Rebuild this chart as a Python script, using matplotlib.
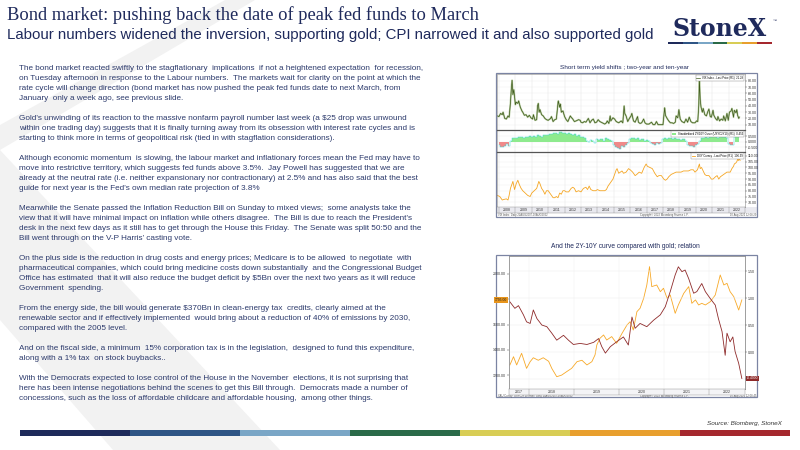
import numpy as np
import matplotlib.pyplot as plt
from matplotlib.patches import Polygon, Rectangle
from matplotlib.transforms import blended_transform_factory

W, H = 800, 450
NAVY = '#1f2a5c'
TEXT = '#2c3a6c'

title = "Bond market: pushing back the date of peak fed funds to March"
subtitle = ("Labour numbers widened the inversion, supporting gold; "
            "CPI narrowed it and also supported gold")

body = [
    "The bond market reacted swiftly to the stagflationary  implications  if not a heightened expectation  for recession,",
    "on Tuesday afternoon in response to the Labour numbers.  The markets wait for clarity on the point at which the",
    "rate cycle will change direction (bond market has now pushed the peak fed funds date to next March, from",
    "January  only a week ago, see previous slide.",
    "",
    "Gold\u2019s unwinding of its reaction to the massive nonfarm payroll number last week (a $25 drop was unwound",
    "within one trading day) suggests that it is finally turning away from its obsession with interest rate cycles and is",
    "starting to think more in terms of geopolitical risk (tied in with stagflation considerations).",
    "",
    "Although economic momentum  is slowing, the labour market and inflationary forces mean the Fed may have to",
    "move into restrictive territory, which suggests fed funds above 3.5%.  Jay Powell has suggested that we are",
    "already at the neutral rate (i.e. neither expansionary nor contractionary) at 2.5% and has also said that the best",
    "guide for next year is the Fed\u2019s own median rate projection of 3.8%",
    "",
    "Meanwhile the Senate passed the Inflation Reduction Bill on Sunday to mixed views;  some analysts take the",
    "view that it will have minimal impact on inflation while others disagree.  The Bill is due to reach the President\u2019s",
    "desk in the next few days as it still has to get through the House this Friday.  The Senate was split 50:50 and the",
    "Bill went through on the V-P Harris\u2019 casting vote.",
    "",
    "On the plus side is the reduction in drug costs and energy prices; Medicare is to be allowed  to negotiate  with",
    "pharmaceutical companies, which could bring medicine costs down substantially  and the Congressional Budget",
    "Office has estimated  that it will also reduce the budget deficit by $5Bn over the next two years as it will reduce",
    "Government  spending.",
    "",
    "From the energy side, the bill would generate $370Bn in clean-energy tax  credits, clearly aimed at the",
    "renewable sector and if effectively implemented  would bring about a reduction of 40% of emissions by 2030,",
    "compared with the 2005 level.",
    "",
    "And on the fiscal side, a minimum  15% corporation tax is in the legislation,  designed to fund this expenditure,",
    "along with a 1% tax  on stock buybacks..",
    "",
    "With the Democrats expected to lose control of the House in the November  elections, it is not surprising that",
    "here has been intense negotiations behind the scenes to get this Bill through.  Democrats made a number of",
    "concessions, such as the loss of affordable childcare and affordable housing,  among other things.",
]

chart1_title = "Short term yield shifts ; two-year and ten-year"
chart2_title = "And the 2Y-10Y curve compared with gold; relation"
source = "Source: Blomberg, StoneX"
bar_colors = ['#1e2a5a', '#2f5585', '#7aa6c6', '#2a6a48', '#d8cd55', '#e89f2e', '#a5282e']

# chart 1, top panel: VIX
vix = [(2007.9, 24), (2008.0, 23), (2008.1, 28), (2008.2, 26), (2008.25, 30), (2008.35, 20),
       (2008.45, 19), (2008.55, 24), (2008.62, 22), (2008.7, 45), (2008.76, 70), (2008.8, 81),
       (2008.85, 58), (2008.9, 66), (2008.95, 55), (2009.0, 42), (2009.05, 46), (2009.15, 44),
       (2009.2, 48), (2009.3, 38), (2009.4, 32), (2009.45, 30), (2009.55, 25), (2009.65, 26),
       (2009.75, 22), (2009.85, 25), (2009.95, 21), (2010.05, 19), (2010.1, 26), (2010.2, 17),
       (2010.3, 18), (2010.35, 40), (2010.4, 44), (2010.45, 30), (2010.5, 34), (2010.6, 26),
       (2010.7, 24), (2010.8, 20), (2010.9, 18), (2011.0, 17), (2011.15, 20), (2011.2, 23),
       (2011.3, 15), (2011.4, 18), (2011.5, 19), (2011.6, 45), (2011.62, 48), (2011.7, 38),
       (2011.75, 43), (2011.8, 30), (2011.9, 32), (2012.0, 23), (2012.1, 18), (2012.2, 15),
       (2012.35, 24), (2012.4, 22), (2012.5, 19), (2012.6, 15), (2012.7, 16), (2012.85, 18),
       (2012.95, 17), (2013.0, 14), (2013.1, 13), (2013.2, 15), (2013.3, 14), (2013.45, 20),
       (2013.55, 13), (2013.65, 17), (2013.75, 19), (2013.85, 13), (2013.95, 14), (2014.05, 18),
       (2014.15, 15), (2014.3, 13), (2014.45, 11), (2014.55, 13), (2014.6, 16), (2014.7, 12),
       (2014.78, 24), (2014.82, 16), (2014.95, 21), (2015.05, 19), (2015.15, 15), (2015.3, 13),
       (2015.45, 16), (2015.55, 13), (2015.63, 40), (2015.67, 28), (2015.75, 24), (2015.85, 15),
       (2015.95, 20), (2016.05, 24), (2016.1, 28), (2016.2, 16), (2016.3, 14), (2016.45, 23),
       (2016.5, 14), (2016.6, 12), (2016.7, 13), (2016.82, 19), (2016.9, 13), (2017.0, 11),
       (2017.15, 11), (2017.3, 14), (2017.4, 10), (2017.5, 10), (2017.6, 15), (2017.7, 10),
       (2017.85, 10), (2018.0, 10), (2018.1, 37), (2018.15, 25), (2018.25, 20), (2018.35, 16),
       (2018.45, 13), (2018.55, 13), (2018.65, 12), (2018.75, 14), (2018.8, 24), (2018.9, 21),
       (2018.97, 34), (2019.05, 19), (2019.15, 15), (2019.3, 13), (2019.4, 19), (2019.5, 14),
       (2019.6, 22), (2019.7, 15), (2019.8, 13), (2019.95, 13), (2020.05, 16), (2020.12, 15),
       (2020.18, 40), (2020.22, 82), (2020.27, 50), (2020.32, 38), (2020.4, 30), (2020.45, 36),
       (2020.55, 26), (2020.65, 24), (2020.72, 30), (2020.8, 35), (2020.88, 23), (2020.95, 22),
       (2021.05, 33), (2021.1, 25), (2021.2, 20), (2021.3, 17), (2021.35, 23), (2021.45, 16),
       (2021.55, 19), (2021.65, 17), (2021.7, 24), (2021.8, 16), (2021.9, 28), (2021.98, 17),
       (2022.05, 30), (2022.15, 32), (2022.2, 36), (2022.3, 22), (2022.35, 33), (2022.45, 29),
       (2022.5, 34), (2022.55, 25), (2022.62, 20), (2022.65, 22)]

# chart 1, middle panel: standardised 2Y/10Y curve, 8 readings per year from 2008
curve_std = [-0.3, -0.45, -0.5, -0.35, -0.2, -0.4, 0.1, 0.3,
             0.35, 0.3, 0.45, 0.4, 0.35, 0.45, 0.4, 0.5,
             0.45, 0.5, 0.4, 0.55, 0.5, 0.45, 0.6, 0.55,
             0.6, 0.7, 0.65, 0.75, 0.8, 0.7, 0.85, 0.75,
             0.8, 0.7, 0.75, 0.65, 0.6, 0.7, 0.5, 0.55,
             0.4, 0.45, 0.3, 0.1, -0.05, 0.15, 0.05, -0.15,
             0.2, 0.15, 0.25, 0.1, 0.3, 0.2, 0.15, 0.05,
             -0.3, -0.45, -0.55, -0.6, -0.4, -0.5, -0.3, -0.15,
             0.2, 0.3, 0.35, 0.25, 0.3, 0.15, 0.2, 0.1,
             0.15, 0.05, -0.15, -0.2, -0.25, -0.15, -0.2, -0.1,
             0.2, 0.3, 0.25, 0.35, 0.3, 0.25, 0.3, 0.2,
             0.25, 0.15, 0.2, 0.05, -0.25, -0.4, -0.35, -0.45,
             -0.3, -0.2, 0.05, 0.3, 0.35, 0.4, 0.3, 0.45,
             0.4, 0.5, 0.45, 0.35, 0.5, 0.4, 0.45, 0.35,
             -0.2, -0.3, -0.25, 0.4, 0.5, 0.45]

# chart 1, bottom panel: DXY
dxy = [(2007.9, 76), (2008.05, 75), (2008.2, 72), (2008.3, 72.5), (2008.45, 73), (2008.55, 72),
       (2008.62, 76), (2008.7, 82), (2008.8, 86), (2008.85, 88), (2008.95, 81), (2009.05, 86),
       (2009.15, 89), (2009.25, 85), (2009.35, 82), (2009.45, 80), (2009.6, 78), (2009.75, 76),
       (2009.9, 75), (2010.0, 78), (2010.15, 80), (2010.3, 82), (2010.43, 88), (2010.5, 86),
       (2010.6, 82), (2010.7, 80), (2010.8, 77), (2010.9, 80), (2011.0, 80), (2011.15, 77),
       (2011.3, 74), (2011.4, 74), (2011.5, 75), (2011.6, 74), (2011.7, 78), (2011.8, 77),
       (2011.9, 80), (2012.0, 80), (2012.1, 79), (2012.25, 79), (2012.4, 82), (2012.5, 83),
       (2012.6, 82), (2012.7, 79), (2012.85, 80), (2013.0, 79), (2013.15, 82), (2013.3, 83),
       (2013.4, 81), (2013.5, 84), (2013.6, 81), (2013.75, 80), (2013.9, 80), (2014.0, 81),
       (2014.15, 80), (2014.3, 80), (2014.45, 80), (2014.55, 81), (2014.65, 84), (2014.75, 86),
       (2014.85, 88), (2014.95, 90), (2015.05, 94), (2015.15, 98), (2015.2, 99), (2015.3, 95),
       (2015.4, 96), (2015.5, 97), (2015.6, 95), (2015.75, 96), (2015.9, 99), (2016.0, 98),
       (2016.15, 96), (2016.3, 93), (2016.4, 94), (2016.55, 96), (2016.7, 95), (2016.85, 100),
       (2016.97, 103), (2017.05, 101), (2017.2, 100), (2017.35, 99), (2017.5, 95), (2017.65, 92),
       (2017.75, 93), (2017.9, 93), (2018.05, 90), (2018.15, 89), (2018.25, 90), (2018.35, 92),
       (2018.5, 94), (2018.65, 95), (2018.8, 96), (2018.95, 96), (2019.1, 96), (2019.25, 97),
       (2019.4, 97), (2019.55, 97), (2019.7, 98), (2019.85, 98), (2019.95, 96), (2020.1, 98),
       (2020.22, 103), (2020.27, 99), (2020.35, 100), (2020.45, 97), (2020.55, 94), (2020.65, 93),
       (2020.8, 93), (2020.95, 90), (2021.05, 90), (2021.2, 92), (2021.3, 93), (2021.4, 90),
       (2021.5, 92), (2021.6, 93), (2021.7, 94), (2021.8, 95), (2021.9, 96), (2022.0, 96),
       (2022.1, 96), (2022.2, 99), (2022.3, 101), (2022.35, 103), (2022.45, 104), (2022.5, 105),
       (2022.55, 107), (2022.6, 106), (2022.65, 108), (2022.7, 106)]

# chart 2: 2Y-10Y curve (right axis) and gold (left axis)
curve = [(2017.57, 0.93), (2017.68, 0.81), (2017.76, 0.86), (2017.87, 0.69), (2017.94, 0.56),
         (2018.02, 0.53), (2018.09, 0.78), (2018.17, 0.62), (2018.28, 0.50), (2018.39, 0.47),
         (2018.5, 0.35), (2018.61, 0.22), (2018.76, 0.31), (2018.87, 0.22), (2018.98, 0.14),
         (2019.13, 0.16), (2019.28, 0.14), (2019.43, 0.18), (2019.54, 0.25), (2019.61, 0.10),
         (2019.69, -0.02), (2019.8, 0.10), (2019.94, 0.19), (2020.09, 0.28), (2020.2, 0.13),
         (2020.28, 0.65), (2020.35, 0.44), (2020.46, 0.53), (2020.61, 0.47), (2020.76, 0.59),
         (2020.91, 0.69), (2021.02, 0.84), (2021.13, 1.12), (2021.24, 1.43), (2021.31, 1.58),
         (2021.39, 1.49), (2021.46, 1.52), (2021.54, 1.36), (2021.65, 1.09), (2021.72, 1.12),
         (2021.83, 1.27), (2021.91, 1.12), (2022.02, 0.99), (2022.13, 0.87), (2022.2, 0.62),
         (2022.28, 0.38), (2022.35, -0.06), (2022.39, 0.35), (2022.46, 0.19), (2022.52, 0.28),
         (2022.57, 0.01), (2022.65, -0.21), (2022.72, -0.49)]
gold = [(2017.57, 1281), (2017.65, 1346), (2017.72, 1281), (2017.83, 1373), (2017.94, 1254),
        (2018.02, 1307), (2018.09, 1338), (2018.2, 1318), (2018.31, 1338), (2018.43, 1310),
        (2018.5, 1254), (2018.61, 1188), (2018.72, 1201), (2018.83, 1228), (2018.94, 1254),
        (2019.06, 1307), (2019.17, 1318), (2019.28, 1281), (2019.39, 1307), (2019.46, 1360),
        (2019.5, 1439), (2019.57, 1492), (2019.65, 1518), (2019.72, 1478), (2019.83, 1505),
        (2019.94, 1452), (2020.06, 1531), (2020.17, 1597), (2020.24, 1623), (2020.31, 1557),
        (2020.39, 1702), (2020.46, 1729), (2020.54, 1808), (2020.61, 1913), (2020.67, 2058),
        (2020.72, 1900), (2020.83, 1913), (2020.91, 1860), (2020.98, 1887), (2021.06, 1808),
        (2021.13, 1834), (2021.24, 1689), (2021.31, 1755), (2021.43, 1847), (2021.54, 1900),
        (2021.61, 1768), (2021.69, 1795), (2021.76, 1755), (2021.83, 1768), (2021.91, 1755),
        (2022.02, 1781), (2022.13, 1834), (2022.24, 1992), (2022.32, 1913), (2022.39, 1926),
        (2022.46, 1860), (2022.54, 1821), (2022.65, 1715), (2022.72, 1795)]
gold_ticks = [1200, 1400, 1600, 1800, 2000]
curve_ticks = [-0.5, 0.0, 0.5, 1.0, 1.5]


def box(x0, y0, x1, y1):
    return [x0 / W, 1 - y1 / H, (x1 - x0) / W, (y1 - y0) / H]


plt.rcParams['font.family'] = ['Liberation Sans', 'DejaVu Sans']
fig = plt.figure(figsize=(8, 4.5), dpi=100)

bg = fig.add_axes([0, 0, 1, 1])
bg.set_xlim(0, W)
bg.set_ylim(H, 0)
bg.axis('off')

# faint "X" behind the text
bg.add_patch(Polygon([(225, 0), (255, 0), (0, 150), (0, 125)], color='#f2f2f2', lw=0, zorder=0))
bg.add_patch(Polygon([(0, 150), (0, 320), (113, 450), (280, 450)], color='#f2f2f2', lw=0, zorder=0))

bg.text(7, 15, title, family='Liberation Serif', fontsize=13.3, color=NAVY, va='center')
bg.text(7, 35, subtitle, fontsize=10.8, color=NAVY, va='center')

bg.text(720, 29, "StoneX", family='DejaVu Serif', weight='bold', fontsize=17,
        color=NAVY, ha='center', va='center')
bg.text(775, 21, "\u2122", fontsize=3, color=NAVY, ha='center', va='center')
seg = (772 - 668) / len(bar_colors)
for i, c in enumerate(bar_colors):
    bg.add_patch(Rectangle((668 + i * seg, 42.2), seg, 2.2, color=c, lw=0))

for i, line in enumerate(body):
    bg.text(19, 68 + 10 * i, line, fontsize=5.9, color=TEXT, va='center')

bg.text(625, 67, chart1_title, fontsize=4.6, color=NAVY, ha='center', va='center')
bg.text(625, 247, chart2_title, fontsize=4.8, color=NAVY, ha='center', va='center')
bg.text(782, 424, source, fontsize=4.6, style='italic', color='#333333', ha='right', va='center')

seg = (790 - 20) / len(bar_colors)
for i, c in enumerate(bar_colors):
    bg.add_patch(Rectangle((20 + i * seg, 430), seg, 6, color=c, lw=0))

# ---------- chart 1 ----------
X0, X1 = 2007.88, 2023.0
FRAME = '#7b84a3'


def style_panel(ax, ticks, fmt):
    ax.set_xlim(X0, X1)
    ax.set_facecolor('white')
    ax.yaxis.tick_right()
    ax.set_yticks(ticks)
    ax.set_yticklabels([fmt.format(t) for t in ticks])
    ax.tick_params(axis='y', labelsize=2.6, length=1.2, width=0.3, pad=0.8, colors='#333333')
    ax.set_xticks([])
    for y in range(2008, 2023):
        ax.axvline(y, color='#e4e4e4', lw=0.35, zorder=0)
    for t in ticks:
        ax.axhline(t, color='#eeeeee', lw=0.3, zorder=0)
    for s in ax.spines.values():
        s.set_color('#8a8a8a')
        s.set_linewidth(0.4)


top = fig.add_axes(box(497, 74, 745, 130))
vt, vv = zip(*vix)
top.plot(vt, vv, color='#8fb06a', lw=1.3, alpha=0.6)
top.plot(vt, vv, color='#3e5a1c', lw=0.5, label='VIX Index - Last Price (R1)  21.29')
top.set_ylim(1.5, 91)
style_panel(top, [10, 20, 30, 40, 50, 60, 70, 80], '{:.2f}')

mid = fig.add_axes(box(497, 130, 745, 152))
mt = np.linspace(2008.0, 2022.625, len(curve_std))
mv = np.array(curve_std)
mid.fill_between(mt, 0, mv, where=mv >= 0, step='mid', color='#8eea8e', lw=0,
                 label='Standardized 2Y/10Y Curve (USYC2Y10) (R1)  0.453')
mid.fill_between(mt, 0, mv, where=mv < 0, step='mid', color='#f08a8a', lw=0)
mid.step(mt, mv, where='mid', color='#3fd6d6', lw=0.35)
mid.set_ylim(-0.9, 1.03)
style_panel(mid, [-0.5, 0.0, 0.5], '{:.3f}')
mid.spines['top'].set_linewidth(0.9)
mid.spines['top'].set_color('#555555')

bot = fig.add_axes(box(497, 152, 745, 207))
dt, dv = zip(*dxy)
bot.plot(dt, dv, color='#f5a623', lw=0.6, label='DXY Curncy - Last Price (R1)  106.39')
bot.set_ylim(66, 113.3)
style_panel(bot, [70, 75, 80, 85, 90, 95, 100, 105, 110], '{:.2f}')
bot.spines['top'].set_linewidth(0.9)
bot.spines['top'].set_color('#555555')

for ax in (top, mid, bot):
    leg = ax.legend(loc='upper right', fontsize=2.0, handlelength=1.2, handleheight=0.6,
                    borderpad=0.3, fancybox=False, framealpha=1, borderaxespad=0.4)
    leg.get_frame().set_linewidth(0.3)
    leg.get_frame().set_edgecolor('#888888')

band1 = fig.add_axes(box(497, 207, 745, 213))
band1.set_xlim(X0, X1)
band1.set_ylim(0, 1)
band1.set_facecolor('#e9e9ef')
band1.set_xticks([])
band1.set_yticks([])
for y in range(2008, 2023):
    band1.axvline(y, color='#9a9a9a', lw=0.35)
    band1.text(y + 0.5, 0.5, str(y), fontsize=2.5, ha='center', va='center', color='#333333')
for s in band1.spines.values():
    s.set_linewidth(0.3)
    s.set_color('#8a8a8a')
bg.add_patch(Rectangle((745, 207), 12, 6, color='#e9e9ef', lw=0))
bg.text(498, 215.3, "VIX Index  Daily 22AUG2007-10AUG2022",
        fontsize=1.9, color='#555555', va='center')
bg.text(640, 215.3, "Copyright\u00a9 2022 Bloomberg Finance L.P.", fontsize=1.9, color='#555555', va='center')
bg.text(756, 215.3, "10-Aug-2022 12:08:29", fontsize=1.9, color='#555555', va='center', ha='right')
bg.add_patch(Rectangle((496, 73), 261, 144, fill=False, edgecolor=FRAME, lw=0.9))

# ---------- chart 2 ----------
C0, C1 = 2017.55, 2022.79
ax2 = fig.add_axes(box(509, 256, 745, 389))
axr = ax2.twinx()
gt, gv = zip(*gold)
ct, cv = zip(*curve)
ax2.plot(gt, gv, color='#f7a928', lw=0.6)
axr.plot(ct, cv, color='#8e2a2a', lw=0.6)
ax2.set_xlim(C0, C1)
ax2.set_ylim(1091, 2142)
axr.set_ylim(-0.685, 1.78)
ax2.set_xticks([])
# the 1800 and -0.50 labels sit under the last-value boxes
ax2.set_yticks(gold_ticks)
ax2.set_yticklabels(['' if v == 1800 else '{:.2f}'.format(v) for v in gold_ticks])
axr.set_yticks(curve_ticks)
axr.set_yticklabels(['' if v == -0.5 else '{:.2f}'.format(v) for v in curve_ticks])
for a in (ax2, axr):
    a.tick_params(axis='y', labelsize=2.6, length=1.2, width=0.3, pad=0.8, colors='#333333')
    for s in a.spines.values():
        s.set_color('#8a8a8a')
        s.set_linewidth(0.4)
for v in curve_ticks:
    axr.axhline(v, color='#ececec', lw=0.35, zorder=0)
for y in range(2018, 2023):
    ax2.axvline(y, color='#f0f0f0', lw=0.35, zorder=0)

lt = blended_transform_factory(ax2.transAxes, ax2.transData)
ax2.text(-0.008, gold[-1][1], '{:.2f}'.format(gold[-1][1]), transform=lt, fontsize=2.4,
         ha='right', va='center', color='#222222', clip_on=False,
         bbox=dict(boxstyle='square,pad=0.25', fc='#e8951c', ec='none'))
rt = blended_transform_factory(axr.transAxes, axr.transData)
axr.text(1.008, curve[-1][1], '{:.4f}'.format(curve[-1][1]), transform=rt, fontsize=2.4,
         ha='left', va='center', color='white', clip_on=False,
         bbox=dict(boxstyle='square,pad=0.25', fc='#8e2a2a', ec='none'))

band2 = fig.add_axes(box(509, 389, 745, 395))
band2.set_xlim(C0, C1)
band2.set_ylim(0, 1)
band2.set_facecolor('#f4f4f6')
band2.set_xticks([])
band2.set_yticks([])
for y in range(2017, 2023):
    lo, hi = max(y, C0), min(y + 1, C1)
    if y > 2017:
        band2.axvline(y, color='#9a9a9a', lw=0.35)
    band2.text((lo + hi) / 2, 0.5, str(y), fontsize=2.5, ha='center', va='center', color='#333333')
for s in band2.spines.values():
    s.set_linewidth(0.3)
    s.set_color('#8a8a8a')
bg.text(498, 396, "XAU Curncy  USYC2Y10 Index  Daily 10AUG2017-10AUG2022",
        fontsize=1.9, color='#555555', va='center')
bg.text(640, 396, "Copyright\u00a9 2022 Bloomberg Finance L.P.", fontsize=1.9, color='#555555', va='center')
bg.text(756, 396, "10-Aug-2022 12:08:45", fontsize=1.9, color='#555555', va='center', ha='right')
bg.add_patch(Rectangle((496, 255), 261, 142, fill=False, edgecolor=FRAME, lw=0.9))

fig.savefig('out.png', dpi=100)
